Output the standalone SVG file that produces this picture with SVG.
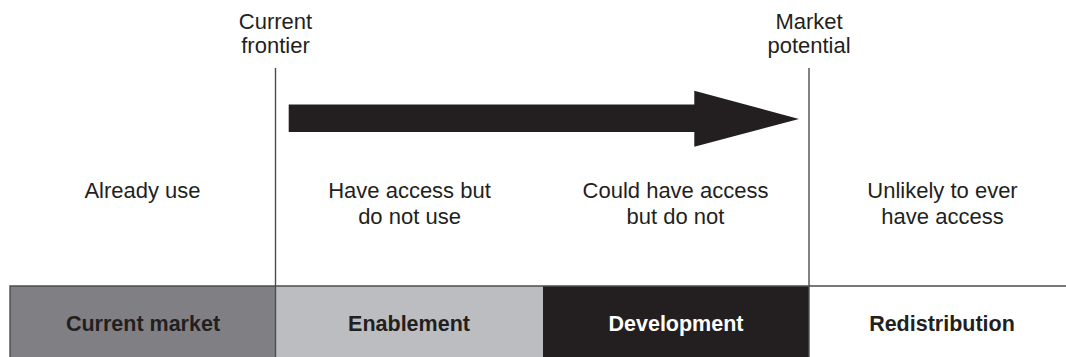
<svg xmlns="http://www.w3.org/2000/svg" width="1066" height="357" viewBox="0 0 1066 357">
<style>
  .t { font-family: "Liberation Sans", Arial, sans-serif; font-size: 22px; fill: #231f20; text-anchor: middle; }
  .b { font-family: "Liberation Sans", Arial, sans-serif; font-size: 21.5px; font-weight: bold; text-anchor: middle; }
  .ln { stroke: #4d4d4f; stroke-width: 1.4; fill: none; }
</style>
<rect width="1066" height="357" fill="#ffffff"/>
<g id="labels-top">
  <text class="t" x="275.5" y="29">Current</text>
  <text class="t" x="275.5" y="53">frontier</text>
  <text class="t" x="809" y="29">Market</text>
  <text class="t" x="809" y="53">potential</text>
</g>
<g id="segments-text">
  <text class="t" x="142.5" y="198">Already use</text>
  <text class="t" x="409.5" y="198">Have access but</text>
  <text class="t" x="409.5" y="224">do not use</text>
  <text class="t" x="675.5" y="198">Could have access</text>
  <text class="t" x="675.5" y="224">but do not</text>
  <text class="t" x="942.5" y="198">Unlikely to ever</text>
  <text class="t" x="942.5" y="224">have access</text>
</g>
<g id="bar">
  <g id="current-market">
    <rect x="10" y="286" width="265.5" height="71" fill="#808084"/>
    <text class="b" x="143" y="331" fill="#231f20">Current market</text>
  </g>
  <g id="enablement">
    <rect x="275.5" y="286" width="267.5" height="71" fill="#bcbdc0"/>
    <text class="b" x="409" y="331" fill="#231f20">Enablement</text>
  </g>
  <g id="development">
    <rect x="543" y="286" width="266" height="71" fill="#231f20"/>
    <text class="b" x="676" y="331" fill="#ffffff">Development</text>
  </g>
  <g id="redistribution">
    <rect x="809" y="286" width="257" height="71" fill="#ffffff"/>
    <text class="b" x="942" y="331" fill="#231f20">Redistribution</text>
  </g>
  <path class="ln" d="M10,357 V286 H1066"/>
</g>
<g id="connectors">
  <line class="ln" x1="275.5" y1="68" x2="275.5" y2="357"/>
  <line class="ln" x1="809" y1="68" x2="809" y2="357"/>
  <polygon id="arrow" points="288.7,104.5 694.3,104.5 694.3,90.7 799,119 694.3,146.7 694.3,132 288.7,132" fill="#231f20"/>
</g>
</svg>
